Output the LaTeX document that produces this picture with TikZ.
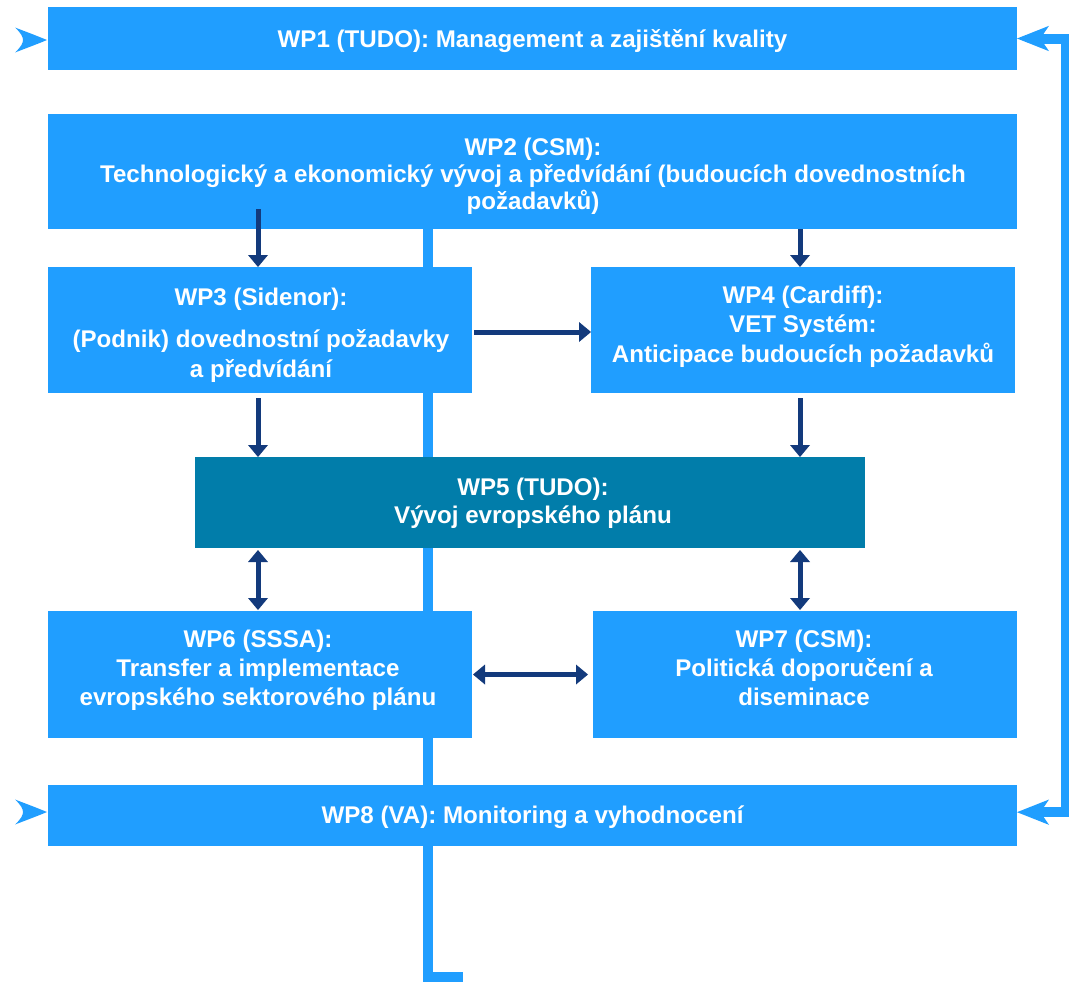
\documentclass[tikz,border=0pt]{standalone}
\usepackage{fontspec}
\setmainfont{Liberation Sans}
\usetikzlibrary{arrows.meta,fit}
\definecolor{lb}{RGB}{32,158,255}
\definecolor{teal5}{RGB}{1,125,170}
\definecolor{navy}{RGB}{19,58,124}
\tikzset{
  box/.style={fill=lb, draw=none, inner sep=0pt, outer sep=0pt, rectangle},
  tbox/.style={box, fill=teal5},
  txt/.style={text=white, align=center, anchor=base, inner sep=0pt,
    font=\fontsize{18.1pt}{21.75pt}\selectfont\bfseries},
  ntip/.tip={Triangle[length=9pt,width=15pt,line width=0pt]},
  ftip/.tip={Stealth[length=24pt,width=19pt,inset=6.5pt,line width=0pt]},
  arr/.style={draw=navy, line width=3.75pt, -ntip},
  darr/.style={draw=navy, line width=3.75pt, ntip-ntip},
  feed/.style={draw=lb, line width=7.5pt}
}
\begin{document}
\begin{tikzpicture}[x=0.75pt,y=-0.75pt]
\useasboundingbox (0,0) rectangle (1069,982);
% coordinates
\coordinate (vx) at (428,977);
\coordinate (lend) at (463,977);
\coordinate (rx) at (1066,0);
\coordinate (cL) at (258,0);
\coordinate (cR) at (800,0);
% WP2 box, then background feed line (behind other boxes)
\node[box, fit={(48,114) (1017,229)}] (wp2) {};
\draw[feed] (vx |- wp2.south) -- (vx) -- (lend);
% boxes
\node[box, fit={(48,7) (1017,70)}] (wp1) {};
\node[box, fit={(48,267) (472,393)}] (wp3) {};
\node[box, fit={(591,267) (1015,393)}] (wp4) {};
\node[tbox, fit={(195,457) (865,548)}] (wp5) {};
\node[box, fit={(48,611) (472,738)}] (wp6) {};
\node[box, fit={(593,611) (1017,738)}] (wp7) {};
\node[box, fit={(48,785) (1017,846)}] (wp8) {};
% texts (anchor=base: baseline of the last line)
\node[txt] (t1) at (532.5,47) {WP1 (TUDO): Management a zajištění kvality};
\node[txt, font=\fontsize{18.1pt}{20.25pt}\selectfont\bfseries] (t2) at (533,209)
  {WP2 (CSM):\\Technologický a ekonomický vývoj a předvídání (budoucích dovednostních\\požadavků)};
\node[txt, font=\fontsize{18.1pt}{22.5pt}\selectfont\bfseries] (t3) at (261,377)
  {WP3 (Sidenor):\\[9pt](Podnik) dovednostní požadavky\\a předvídání};
\node[txt, font=\fontsize{18.1pt}{22pt}\selectfont\bfseries] (t4) at (803,362)
  {WP4 (Cardiff):\\VET Systém:\\Anticipace budoucích požadavků};
\node[txt, font=\fontsize{18.1pt}{21pt}\selectfont\bfseries] (t5) at (533,523)
  {WP5 (TUDO):\\Vývoj evropského plánu};
\node[txt] (t6) at (258,705) {WP6 (SSSA):\\Transfer a implementace\\evropského sektorového plánu};
\node[txt] (t7) at (804,705) {WP7 (CSM):\\Politická doporučení a\\diseminace};
\node[txt] (t8) at (532.5,823) {WP8 (VA): Monitoring a vyhodnocení};
% right feedback connector
\draw[feed, ftip-ftip] (wp1.east) -- (wp1.east -| rx) -- ([yshift=2.5pt]wp8.east -| rx) -- ([yshift=2.5pt]wp8.east);
% left arrowheads
\fill[lb] (47,40) .. controls (35,35) and (24,31) .. (15,27.5) .. controls (21,33) and (23,37) .. (23,40)
  .. controls (23,43) and (21,47) .. (15,52.5) .. controls (24,49) and (35,45) .. cycle;
\fill[lb] (47,812) .. controls (35,807) and (24,803) .. (15,799.5) .. controls (21,805) and (23,809) .. (23,812)
  .. controls (23,815) and (21,819) .. (15,824.5) .. controls (24,821) and (35,817) .. cycle;
% dark arrows
\draw[arr] ([yshift=15pt]cL |- wp2.south) -- (cL |- wp3.north);
\draw[arr] (cR |- wp2.south) -- (cR |- wp4.north);
\draw[arr] ([xshift=1.5pt,yshift=-1.5pt]wp3.east) -- ([yshift=-1.5pt]wp3.east -| wp4.west);
\draw[arr] ([yshift=-3.75pt]cL |- wp3.south) -- (cL |- wp5.north);
\draw[arr] ([yshift=-3.75pt]cR |- wp4.south) -- (cR |- wp5.north);
\draw[darr] ([yshift=-1.5pt]cL |- wp5.south) -- ([yshift=0.75pt]cL |- wp6.north);
\draw[darr] ([yshift=-1.5pt]cR |- wp5.south) -- ([yshift=0.75pt]cR |- wp7.north);
\draw[darr] ([xshift=0.75pt]wp6.east) -- ([xshift=-3.75pt]wp6.east -| wp7.west);
\end{tikzpicture}
\end{document}
